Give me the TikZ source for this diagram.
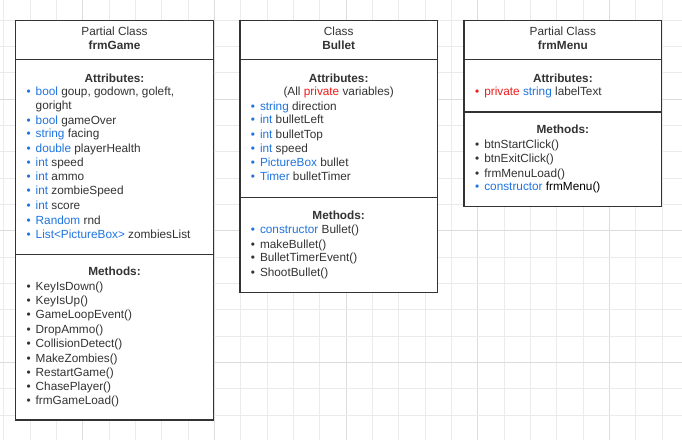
\documentclass[tikz,border=0pt]{standalone}
\usepackage{fontspec}
\setmainfont{Liberation Sans}
\definecolor{txt}{HTML}{333333}
\definecolor{kw}{HTML}{1F74E0}
\definecolor{pv}{HTML}{EE1C1C}
\definecolor{gridminor}{HTML}{EBEBEB}
\definecolor{gridmajor}{HTML}{DCDCDC}
\definecolor{frame}{HTML}{333333}
\newcommand\bitem[5]{%
  \node[dotmark, text=#4] (#1d) at ({#2-7},{#3+4}) {•};
  \node[itm] (#1) at (#2,{#3+4}) {#5};
}
\newcommand\ptext[4]{%
  \node[itm] (#1) at (#2,{#3+4}) {#4};
}
\newcommand\htext[5]{%
  \node[hdr,font=\fontsize{11.8}{14}\selectfont#4] (#1) at (#2,{#3+4.2}) {#5};
}
\begin{document}
\begin{tikzpicture}[x=1pt,y=-1pt,
  font=\fontsize{11.8}{14}\selectfont,
  every node/.style={inner sep=0pt, outer sep=0pt, text=txt},
  classbox/.style={draw=frame, line width=1.3pt, fill=white, rectangle, inner sep=0pt},
  sepline/.style={draw=frame, line width=1.3pt},
  hdr/.style={anchor=base},
  itm/.style={anchor=base west},
  dotmark/.style={anchor=base}]
\useasboundingbox (0,0) rectangle (682,440);
\fill[white] (0,0) rectangle (682,440);
% grid
\foreach \k in {0,...,25}{
  \pgfmathsetmacro\xx{3.8+26.33*\k}
  \pgfmathtruncatemacro\m{mod(\k,5)}
  \ifnum\m=3
    \draw[gridmajor, line width=0.9pt] (\xx,0) -- (\xx,440);
  \else
    \draw[gridminor, line width=0.9pt] (\xx,0) -- (\xx,440);
  \fi
}
\foreach \k in {0,...,15}{
  \pgfmathsetmacro\yy{20.1+26.33*\k}
  \pgfmathtruncatemacro\m{mod(\k,5)}
  \ifnum\m=3
    \draw[gridmajor, line width=0.9pt] (0,\yy) -- (682,\yy);
  \else
    \draw[gridminor, line width=0.9pt] (0,\yy) -- (682,\yy);
  \fi
}
% boxes
\node[classbox, minimum width=198pt, minimum height=399.3pt] (game) at (114.5,220.35) {};
\node[classbox, minimum width=197.3pt, minimum height=271.6pt] (bullet) at (338.65,156.5) {};
\node[classbox, minimum width=197.7pt, minimum height=186pt] (menu) at (562.85,113.7) {};
\coordinate (s1) at (0,59.7);
\coordinate (s2) at (0,254.3);
\coordinate (s3) at (0,197.3);
\coordinate (s4) at (0,112);
\draw[sepline] (game.west |- s1) -- (game.east |- s1);
\draw[sepline] (game.west |- s2) -- (game.east |- s2);
\draw[sepline] (bullet.west |- s1) -- (bullet.east |- s1);
\draw[sepline] (bullet.west |- s3) -- (bullet.east |- s3);
\draw[sepline] (menu.west |- s1) -- (menu.east |- s1);
\draw[sepline] (menu.west |- s4) -- (menu.east |- s4);
% ---- frmGame
\htext{gh1}{114.5}{31.7}{}{Partial Class}
\htext{gh2}{114.5}{45.7}{\bfseries}{frmGame}
\htext{gat}{114.5}{78}{\bfseries}{Attributes:}
\bitem{ga1}{35.7}{91.7}{kw}{\textcolor{kw}{bool} goup, godown, goleft,}
\ptext{ga1b}{35.7}{105.7}{goright}
\bitem{ga2}{35.7}{120}{kw}{\textcolor{kw}{bool} gameOver}
\bitem{ga3}{35.7}{133.7}{kw}{\textcolor{kw}{string} facing}
\bitem{ga4}{35.7}{148.3}{kw}{\textcolor{kw}{double} playerHealth}
\bitem{ga5}{35.7}{162.7}{kw}{\textcolor{kw}{int} speed}
\bitem{ga6}{35.7}{176.7}{kw}{\textcolor{kw}{int} ammo}
\bitem{ga7}{35.7}{190.7}{kw}{\textcolor{kw}{int} zombieSpeed}
\bitem{ga8}{35.7}{205.7}{kw}{\textcolor{kw}{int} score}
\bitem{ga9}{35.7}{220}{kw}{\textcolor{kw}{Random} rnd}
\bitem{ga10}{35.7}{234}{kw}{\textcolor{kw}{List\textless PictureBox\textgreater} zombiesList}
\htext{gmt}{114.5}{271.7}{\bfseries}{Methods:}
\bitem{gm1}{35.7}{286.3}{txt}{KeyIsDown()}
\bitem{gm2}{35.7}{300.7}{txt}{KeyIsUp()}
\bitem{gm3}{35.7}{314.7}{txt}{GameLoopEvent()}
\bitem{gm4}{35.7}{329.3}{txt}{DropAmmo()}
\bitem{gm5}{35.7}{343.7}{txt}{CollisionDetect()}
\bitem{gm6}{35.7}{358}{txt}{MakeZombies()}
\bitem{gm7}{35.7}{372}{txt}{RestartGame()}
\bitem{gm8}{35.7}{386}{txt}{ChasePlayer()}
\bitem{gm9}{35.7}{400.3}{txt}{frmGameLoad()}
% ---- Bullet
\htext{bh1}{338.65}{31.7}{}{Class}
\htext{bh2}{338.65}{45.7}{\bfseries}{Bullet}
\htext{bat}{338.65}{78}{\bfseries}{Attributes:}
\node[hdr] (bav) at (338.65,95.7) {(All \textcolor{pv}{private} variables)};
\bitem{ba1}{260}{106}{kw}{\textcolor{kw}{string} direction}
\bitem{ba2}{260}{119.3}{kw}{\textcolor{kw}{int} bulletLeft}
\bitem{ba3}{260}{134.3}{kw}{\textcolor{kw}{int} bulletTop}
\bitem{ba4}{260}{148.3}{kw}{\textcolor{kw}{int} speed}
\bitem{ba5}{260}{162.7}{kw}{\textcolor{kw}{PictureBox} bullet}
\bitem{ba6}{260}{176.7}{kw}{\textcolor{kw}{Timer} bulletTimer}
\htext{bmt}{338.65}{215.7}{\bfseries}{Methods:}
\bitem{bm1}{260}{229.7}{kw}{\textcolor{kw}{constructor} Bullet()}
\bitem{bm2}{260}{244}{txt}{makeBullet()}
\bitem{bm3}{260}{257.7}{txt}{BulletTimerEvent()}
\bitem{bm4}{260}{272}{txt}{ShootBullet()}
% ---- frmMenu
\htext{mh1}{562.85}{31.7}{}{Partial Class}
\htext{mh2}{562.85}{45.7}{\bfseries}{frmMenu}
\htext{mat}{562.85}{78}{\bfseries}{Attributes:}
\bitem{ma1}{484.3}{91.7}{pv}{\textcolor{pv}{private} \textcolor{kw}{string} labelText}
\htext{mmt}{562.85}{129.3}{\bfseries}{Methods:}
\bitem{mm1}{484.3}{144}{txt}{btnStartClick()}
\bitem{mm2}{484.3}{158.7}{txt}{btnExitClick()}
\bitem{mm3}{484.3}{173}{txt}{frmMenuLoad()}
\bitem{mm4}{484.3}{186.7}{kw}{\textcolor{kw}{constructor} \textcolor{black}{frmMenu()}}
\end{tikzpicture}
\end{document}
